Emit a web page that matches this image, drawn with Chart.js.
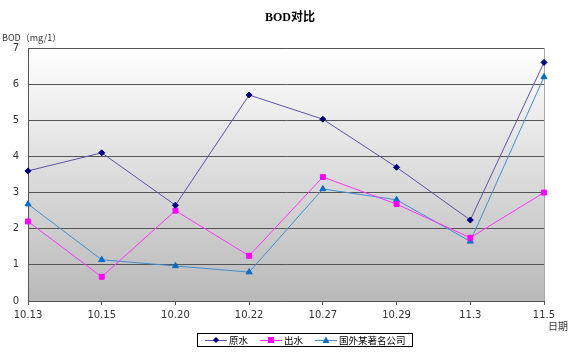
<!DOCTYPE html>
<html>
<head>
<meta charset="utf-8">
<script src="https://cdn.jsdelivr.net/npm/chart.js@4/dist/chart.umd.min.js"></script>
<style>
  html, body { margin: 0; padding: 0; background: #fff; }
  #wrap { width: 573px; height: 359px; position: relative; }
</style>
</head>
<body>
<div id="wrap"><canvas id="bodChart"></canvas></div>
<script>
// chart values
const dates = ['10.13', '10.15', '10.20', '10.22', '10.27', '10.29', '11.3', '11.5'];
const rawWater = [3.6, 4.1, 2.65, 5.7, 5.03, 3.7, 2.24, 6.6];
const outWater = [2.2, 0.67, 2.5, 1.25, 3.43, 2.68, 1.75, 3.0];
const foreignCo = [2.68, 1.14, 0.97, 0.8, 3.1, 2.8, 1.65, 6.2];
const seriesNames = ['原水', '出水', '国外某著名公司'];
const yTicks = [0, 1, 2, 3, 4, 5, 6, 7];

const cjkFont = '"Noto Sans CJK SC", "DejaVu Sans", sans-serif';

// gradient background inside the plot area + frame
const plotBackground = {
    id: 'plotBackground',
    beforeDraw(chart) {
        const { ctx, chartArea: a } = chart;
        const g = ctx.createLinearGradient(0, a.top, 0, a.bottom);
        g.addColorStop(0, '#ffffff');
        g.addColorStop(1, '#b9b9b9');
        ctx.save();
        ctx.fillStyle = g;
        ctx.fillRect(a.left, a.top, a.right - a.left, a.bottom - a.top);
        ctx.strokeStyle = '#a8a8a8';
        ctx.lineWidth = 1;
        ctx.strokeRect(a.left + 0.5, a.top + 0.5, a.right - a.left, a.bottom - a.top);
        ctx.restore();
    }
};

// title, axis titles and the boxed legend
const extras = {
    id: 'extras',
    afterDraw(chart) {
        const { ctx } = chart;
        ctx.save();
        ctx.fillStyle = '#000';
        ctx.textBaseline = 'middle';
        ctx.textAlign = 'center';
        ctx.font = 'bold 12px "Liberation Serif", ' + cjkFont;
        ctx.fillText('BOD对比', 290, 18);

        ctx.fillStyle = '#333';
        ctx.textAlign = 'left';
        ctx.font = '9px ' + cjkFont;
        ctx.fillText('BOD（mg/1）', 2, 38);
        ctx.font = '10px ' + cjkFont;
        ctx.fillText('日期', 548, 326);

        // legend
        const lx = 197, ly = 333, lw = 215, lh = 13;
        ctx.fillStyle = '#fff';
        ctx.fillRect(lx, ly, lw, lh);
        ctx.strokeStyle = '#000';
        ctx.lineWidth = 1;
        ctx.strokeRect(lx + 0.5, ly + 0.5, lw, lh);
        const itemX = [205, 260, 315];
        const cy = ly + 7;
        ctx.font = '9.5px ' + cjkFont;
        chart.data.datasets.forEach((ds, i) => {
            const x0 = itemX[i];
            ctx.strokeStyle = ds.borderColor;
            ctx.beginPath();
            ctx.moveTo(x0, cy + 0.5);
            ctx.lineTo(x0 + 22, cy + 0.5);
            ctx.stroke();
            ctx.fillStyle = ds.pointBackgroundColor;
            const mx = x0 + 11;
            ctx.beginPath();
            if (ds.pointStyle === 'rect') {
                ctx.rect(mx - 3, cy - 3, 6, 6);
            } else if (ds.pointStyle === 'triangle') {
                ctx.moveTo(mx, cy - 3.5);
                ctx.lineTo(mx + 3.5, cy + 3);
                ctx.lineTo(mx - 3.5, cy + 3);
                ctx.closePath();
            } else {
                ctx.moveTo(mx, cy - 3);
                ctx.lineTo(mx + 3, cy);
                ctx.lineTo(mx, cy + 3);
                ctx.lineTo(mx - 3, cy);
                ctx.closePath();
            }
            ctx.fill();
            ctx.fillStyle = '#000';
            ctx.fillText(ds.label, x0 + 24, cy + 0.5);
        });
        ctx.restore();
    }
};

new Chart(document.getElementById('bodChart'), {
    type: 'line',
    data: {
        labels: dates,
        datasets: [
            {
                label: seriesNames[0],
                data: rawWater,
                borderColor: '#5a55a8',
                backgroundColor: '#000080',
                pointBackgroundColor: '#000080',
                pointBorderColor: '#000080',
                pointStyle: 'rectRot',
                pointRadius: 3,
                borderWidth: 1
            },
            {
                label: seriesNames[1],
                data: outWater,
                borderColor: '#ff33ff',
                backgroundColor: '#ff00ff',
                pointBackgroundColor: '#ff00ff',
                pointBorderColor: '#ff00ff',
                pointStyle: 'rect',
                pointRadius: 3.5,
                borderWidth: 1
            },
            {
                label: seriesNames[2],
                data: foreignCo,
                borderColor: '#3f8fd0',
                backgroundColor: '#0a6cc4',
                pointBackgroundColor: '#0a6cc4',
                pointBorderColor: '#0a6cc4',
                pointStyle: 'triangle',
                pointRadius: 3.5,
                borderWidth: 1
            }
        ]
    },
    options: {
        responsive: true,
        maintainAspectRatio: false,
        animation: false,
        layout: { padding: { top: 48, right: 29, bottom: 0, left: 0 } },
        plugins: {
            legend: { display: false },
            title: { display: false },
            tooltip: { enabled: false }
        },
        elements: { line: { tension: 0 } },
        scales: {
            x: {
                offset: false,
                afterFit(scale) { scale.height = 58; },
                grid: {
                    display: true,
                    drawOnChartArea: false,
                    drawTicks: true,
                    tickLength: 4,
                    color: '#555'
                },
                border: { display: true, color: '#555', width: 1 },
                ticks: {
                    color: '#333',
                    padding: 4,
                    maxRotation: 0,
                    autoSkip: false,
                    font: { size: 10, family: '"DejaVu Sans", sans-serif' }
                }
            },
            y: {
                min: 0,
                max: 7,
                afterFit(scale) { scale.width = 28; },
                afterBuildTicks(scale) { scale.ticks = yTicks.map(v => ({ value: v })); },
                grid: {
                    color: '#555',
                    lineWidth: 1,
                    drawTicks: false
                },
                border: { display: true, color: '#555', width: 1 },
                ticks: {
                    color: '#333',
                    padding: 9,
                    font: { size: 10, family: '"DejaVu Sans", sans-serif' }
                }
            }
        }
    },
    plugins: [plotBackground, extras]
});
</script>
</body>
</html>
